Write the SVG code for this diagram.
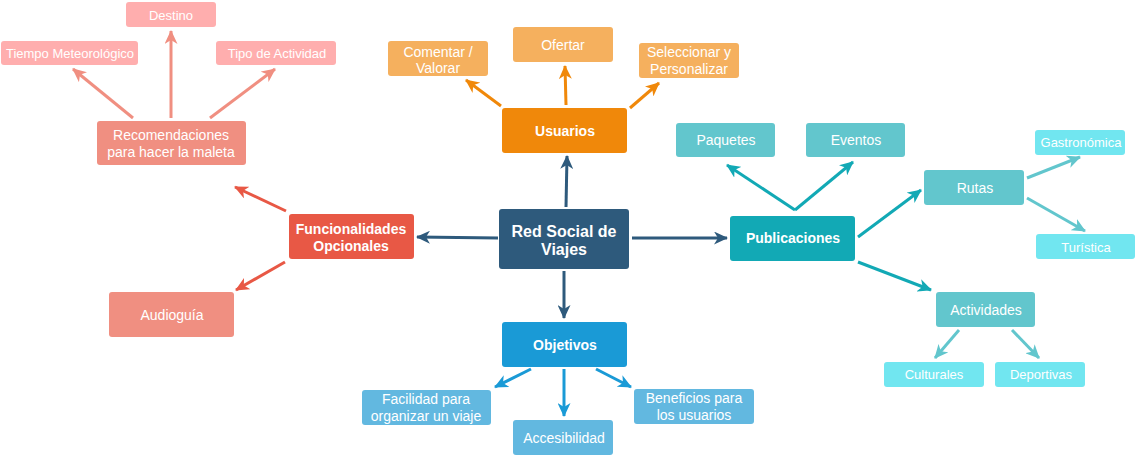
<svg xmlns="http://www.w3.org/2000/svg" width="1137" height="456" viewBox="0 0 1137 456">
<style>
text{font-family:"Liberation Sans",Arial,sans-serif;fill:#fff;text-anchor:middle;dominant-baseline:central}
.b{font-weight:bold;font-size:14px}
.m{font-size:14px}
.s{font-size:13px}
rect{rx:3;ry:3}
.c line,.c path{stroke-width:3;fill:none}
</style>
<defs>
<marker id="aD" markerUnits="userSpaceOnUse" markerWidth="15" markerHeight="13" refX="13" refY="6.5" orient="auto"><path d="M0,0 L14,6.5 L0,13 L4,6.5 Z" fill="#2e5a7c"/></marker>
<marker id="aR" markerUnits="userSpaceOnUse" markerWidth="15" markerHeight="13" refX="13" refY="6.5" orient="auto"><path d="M0,0 L14,6.5 L0,13 L4,6.5 Z" fill="#e85845"/></marker>
<marker id="aS" markerUnits="userSpaceOnUse" markerWidth="15" markerHeight="13" refX="13" refY="6.5" orient="auto"><path d="M0,0 L14,6.5 L0,13 L4,6.5 Z" fill="#f08f81"/></marker>
<marker id="aO" markerUnits="userSpaceOnUse" markerWidth="15" markerHeight="13" refX="13" refY="6.5" orient="auto"><path d="M0,0 L14,6.5 L0,13 L4,6.5 Z" fill="#f0880a"/></marker>
<marker id="aT" markerUnits="userSpaceOnUse" markerWidth="15" markerHeight="13" refX="13" refY="6.5" orient="auto"><path d="M0,0 L14,6.5 L0,13 L4,6.5 Z" fill="#12a9b5"/></marker>
<marker id="aL" markerUnits="userSpaceOnUse" markerWidth="15" markerHeight="13" refX="13" refY="6.5" orient="auto"><path d="M0,0 L14,6.5 L0,13 L4,6.5 Z" fill="#62c6cd"/></marker>
<marker id="aB" markerUnits="userSpaceOnUse" markerWidth="15" markerHeight="13" refX="13" refY="6.5" orient="auto"><path d="M0,0 L14,6.5 L0,13 L4,6.5 Z" fill="#1a9ad6"/></marker>
</defs>

<g id="connectors" class="c">
<g stroke="#2e5a7c">
<line x1="566" y1="207" x2="567" y2="156" marker-end="url(#aD)"/>
<line x1="498" y1="238" x2="417" y2="237" marker-end="url(#aD)"/>
<line x1="632" y1="238" x2="727" y2="238" marker-end="url(#aD)"/>
<line x1="564" y1="271" x2="564" y2="318" marker-end="url(#aD)"/>
</g>
<g stroke="#e85845">
<line x1="286" y1="211" x2="235" y2="187" marker-end="url(#aR)"/>
<line x1="285" y1="262" x2="236" y2="290" marker-end="url(#aR)"/>
</g>
<g stroke="#f08f81">
<line x1="133" y1="118" x2="73" y2="69" marker-end="url(#aS)"/>
<line x1="171" y1="118" x2="171" y2="31" marker-end="url(#aS)"/>
<line x1="210" y1="118" x2="275" y2="69" marker-end="url(#aS)"/>
</g>
<g stroke="#f0880a">
<line x1="501" y1="106" x2="466" y2="80" marker-end="url(#aO)"/>
<line x1="566" y1="105" x2="565" y2="66" marker-end="url(#aO)"/>
<line x1="630" y1="108" x2="659" y2="83" marker-end="url(#aO)"/>
</g>
<g stroke="#12a9b5">
<line x1="795" y1="210" x2="727" y2="165" marker-end="url(#aT)"/>
<line x1="795" y1="210" x2="853" y2="162" marker-end="url(#aT)"/>
<line x1="858" y1="237" x2="921" y2="190" marker-end="url(#aT)"/>
<line x1="858" y1="262" x2="931" y2="290" marker-end="url(#aT)"/>
</g>
<g stroke="#62c6cd">
<line x1="1027" y1="178" x2="1080" y2="157" marker-end="url(#aL)"/>
<line x1="1027" y1="198" x2="1085" y2="231" marker-end="url(#aL)"/>
<line x1="959" y1="330" x2="935" y2="358" marker-end="url(#aL)"/>
<line x1="1012" y1="330" x2="1039" y2="358" marker-end="url(#aL)"/>
</g>
<g stroke="#1a9ad6">
<line x1="531" y1="369" x2="495" y2="387" marker-end="url(#aB)"/>
<line x1="564" y1="369" x2="564" y2="416" marker-end="url(#aB)"/>
<line x1="596" y1="369" x2="631" y2="387" marker-end="url(#aB)"/>
</g>
</g>

<g id="central"><rect x="499" y="209" width="130" height="60" fill="#2e5a7c"/><text x="564" y="231" class="b" style="font-size:16px">Red Social de</text><text x="564" y="249" class="b" style="font-size:16px">Viajes</text></g>

<g id="funcionalidades"><rect x="289" y="214" width="125" height="45" fill="#e85845"/><text x="351" y="229" class="b">Funcionalidades</text><text x="351" y="246" class="b">Opcionales</text></g>
<g id="recomendaciones"><rect x="97" y="121" width="149" height="44" fill="#f08f81"/><text x="171" y="135" class="m">Recomendaciones</text><text x="171" y="152" class="m">para hacer la maleta</text></g>
<g id="audioguia"><rect x="109" y="292" width="125" height="45" fill="#f08f81"/><text x="172" y="315" class="m">Audioguía</text></g>
<g id="destino"><rect x="126" y="2" width="90" height="25" fill="#ffaeae"/><text x="171" y="15" class="s">Destino</text></g>
<g id="tiempo"><rect x="1" y="41" width="137" height="24" fill="#ffaeae"/><text x="70" y="53" class="s">Tiempo Meteorológico</text></g>
<g id="tipo"><rect x="216" y="41" width="120" height="24" fill="#ffaeae"/><text x="277" y="53" class="s">Tipo de Actividad</text></g>

<g id="usuarios"><rect x="502" y="108" width="125" height="45" fill="#f0880a"/><text x="565" y="131" class="b">Usuarios</text></g>
<g id="comentar"><rect x="388" y="41" width="100" height="35" fill="#f5b05e"/><text x="438" y="52" class="m">Comentar /</text><text x="438" y="68" class="m">Valorar</text></g>
<g id="ofertar"><rect x="513" y="27" width="100" height="35" fill="#f5b05e"/><text x="563" y="45" class="m">Ofertar</text></g>
<g id="seleccionar"><rect x="639" y="43" width="100" height="35" fill="#f5b05e"/><text x="689" y="52" class="m">Seleccionar y</text><text x="689" y="69" class="m">Personalizar</text></g>

<g id="publicaciones"><rect x="730" y="216" width="125" height="45" fill="#12a9b5"/><text x="793" y="238" class="b">Publicaciones</text></g>
<g id="paquetes"><rect x="676" y="123" width="99" height="34" fill="#62c6cd"/><text x="726" y="140" class="m">Paquetes</text></g>
<g id="eventos"><rect x="806" y="123" width="99" height="34" fill="#62c6cd"/><text x="856" y="140" class="m">Eventos</text></g>
<g id="rutas"><rect x="924" y="170" width="100" height="35" fill="#62c6cd"/><text x="975" y="188" class="m">Rutas</text></g>
<g id="gastronomica"><rect x="1035" y="130" width="90" height="25" fill="#71e6f0"/><text x="1081" y="142" class="s">Gastronómica</text></g>
<g id="turistica"><rect x="1036" y="234" width="99" height="25" fill="#71e6f0"/><text x="1086" y="247" class="s">Turística</text></g>
<g id="actividades"><rect x="936" y="292" width="99" height="35" fill="#62c6cd"/><text x="986" y="310" class="m">Actividades</text></g>
<g id="culturales"><rect x="884" y="362" width="100" height="25" fill="#71e6f0"/><text x="934" y="374" class="s">Culturales</text></g>
<g id="deportivas"><rect x="995" y="362" width="90" height="25" fill="#71e6f0"/><text x="1041" y="374" class="s">Deportivas</text></g>

<g id="objetivos"><rect x="502" y="322" width="125" height="45" fill="#1a9ad6"/><text x="565" y="345" class="b">Objetivos</text></g>
<g id="facilidad"><rect x="362" y="390" width="129" height="35" fill="#62b8e0"/><text x="426" y="399" class="m">Facilidad para</text><text x="426" y="416" class="m">organizar un viaje</text></g>
<g id="accesibilidad"><rect x="513" y="420" width="100" height="35" fill="#62b8e0"/><text x="564" y="438" class="m">Accesibilidad</text></g>
<g id="beneficios"><rect x="634" y="389" width="120" height="35" fill="#62b8e0"/><text x="694" y="398" class="m">Beneficios para</text><text x="694" y="415" class="m">los usuarios</text></g>
</svg>
